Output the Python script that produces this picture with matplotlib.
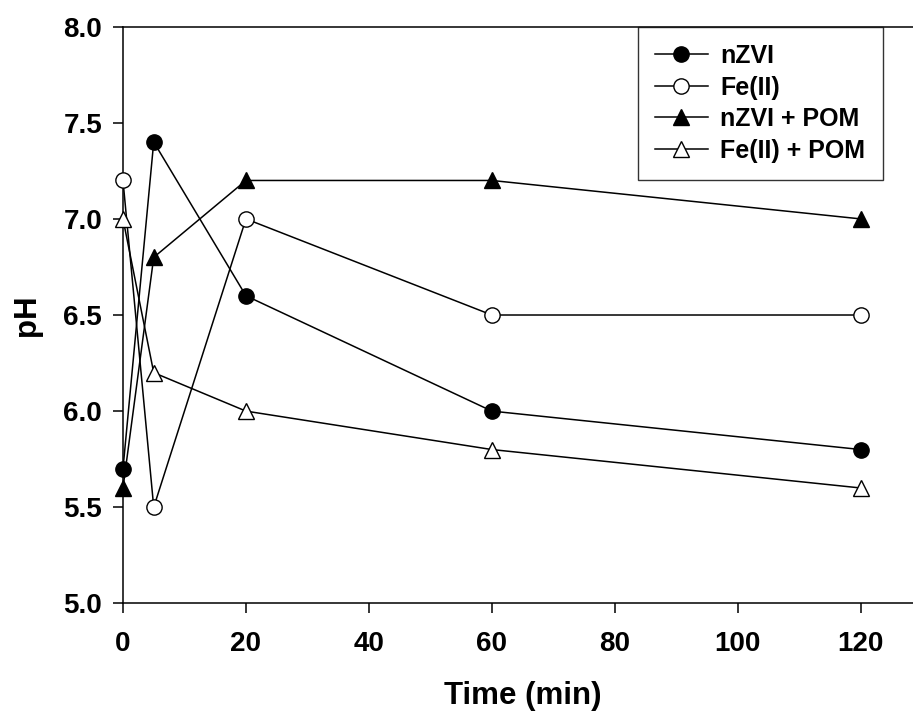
import matplotlib
matplotlib.use("Agg")
from matplotlib import pyplot as plt

# time points (min)
time = [0, 5, 20, 60, 120]

# pH readings
nzvi = [5.7, 7.4, 6.6, 6.0, 5.8]
fe2 = [7.2, 5.5, 7.0, 6.5, 6.5]
nzvi_pom = [5.6, 6.8, 7.2, 7.2, 7.0]
fe2_pom = [7.0, 6.2, 6.0, 5.8, 5.6]

labels = ["nZVI", "Fe(II)", "nZVI + POM", "Fe(II) + POM"]

plt.rcParams['font.family'] = ['Liberation Sans', 'DejaVu Sans']
plt.rcParams['font.weight'] = 'bold'

fig = plt.figure(figsize=(9.13, 7.16), dpi=100)
ax = fig.add_axes([0.1347, 0.1574, 0.8653, 0.8053])

ax.plot(time, nzvi, color="black", lw=1.1, marker="o", ms=11,
        mfc="black", mec="black", label=labels[0], clip_on=False, zorder=3)
ax.plot(time, fe2, color="black", lw=1.1, marker="o", ms=11,
        mfc="white", mec="black", label=labels[1], clip_on=False, zorder=3)
ax.plot(time, nzvi_pom, color="black", lw=1.1, marker="^", ms=12,
        mfc="black", mec="black", label=labels[2], clip_on=False, zorder=3)
ax.plot(time, fe2_pom, color="black", lw=1.1, marker="^", ms=12,
        mfc="white", mec="black", label=labels[3], clip_on=False, zorder=3)

ax.set_xlim(0, 128.5)
ax.set_ylim(5.0, 8.0)
ax.set_xticks([0, 20, 40, 60, 80, 100, 120])
ax.set_yticks([5.0, 5.5, 6.0, 6.5, 7.0, 7.5, 8.0])
ax.set_yticklabels(["5.0", "5.5", "6.0", "6.5", "7.0", "7.5", "8.0"])
ax.tick_params(direction="out", length=7, width=1.1, labelsize=20)
ax.tick_params(axis="x", pad=13)
ax.tick_params(axis="y", pad=8)
ax.spines["right"].set_visible(False)
for s in ["left", "bottom", "top"]:
    ax.spines[s].set_linewidth(1.1)

ax.set_xlabel("Time (min)", fontsize=22.5, fontweight="bold", va="center")
ax.set_ylabel("pH", fontsize=22.5, fontweight="bold", va="center")
ax.xaxis.set_label_coords(0.506, -0.161)
ax.yaxis.set_label_coords(-0.122, 0.5)

leg = ax.legend(loc="upper left", bbox_to_anchor=(0.6513, 1.0), fontsize=18,
                frameon=True, fancybox=False, edgecolor="black",
                handlelength=2.1, borderpad=0.7, labelspacing=0.3,
                handletextpad=0.5, borderaxespad=0)
leg.get_frame().set_linewidth(1.0)

fig.savefig("out.png", dpi=100)
